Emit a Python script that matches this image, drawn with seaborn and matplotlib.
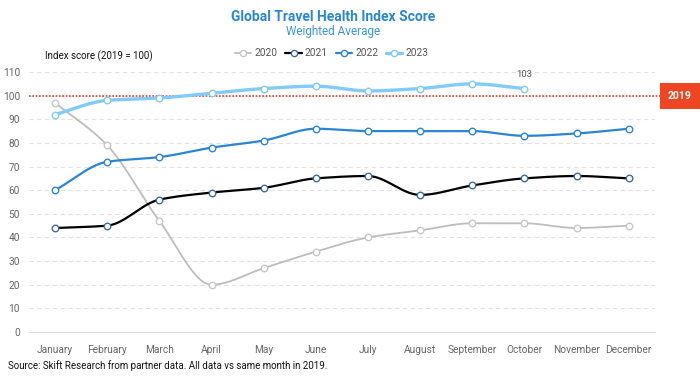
import numpy as np
import pandas as pd
import matplotlib
matplotlib.use("Agg")
import matplotlib.pyplot as plt
import seaborn as sns
from matplotlib.lines import Line2D

months = ["January", "February", "March", "April", "May", "June", "July",
          "August", "September", "October", "November", "December"]
y2020 = [97, 79, 47, 20, 27, 34, 40, 43, 46, 46, 44, 45]
y2021 = [44, 45, 56, 59, 61, 65, 66, 58, 62, 65, 66, 65]
y2022 = [60, 72, 74, 78, 81, 86, 85, 85, 85, 83, 84, 86]
y2023 = [92, 98, 99, 101, 103, 104, 102, 103, 105, 103]
years = ["2020", "2021", "2022", "2023"]

colors = {"2020": "#bdbdbd", "2021": "#000000", "2022": "#2a86d4", "2023": "#80cbf7"}
edges = {"2020": "#c8c8c8", "2021": "#3f6d99", "2022": "#2a86d4", "2023": "#80cbf7"}
widths = {"2020": 1.3, "2021": 1.6, "2022": 1.6, "2023": 2.4}

rows = []
for yr, vals in zip(years, [y2020, y2021, y2022, y2023]):
    for i, v in enumerate(vals):
        rows.append({"year": yr, "pos": i, "month": months[i], "score": v})
df = pd.DataFrame(rows)


# monotone cubic curve through the points (only for drawing the smooth line)
def monotone(x, y, n=30):
    x = np.asarray(x, float)
    y = np.asarray(y, float)
    h = np.diff(x)
    d = np.diff(y) / h
    m = np.zeros_like(y)
    m[0], m[-1] = d[0], d[-1]
    for k in range(1, len(y) - 1):
        if d[k - 1] * d[k] <= 0:
            m[k] = 0
        else:
            m[k] = 3 * (h[k - 1] + h[k]) / ((2 * h[k] + h[k - 1]) / d[k - 1] + (h[k] + 2 * h[k - 1]) / d[k])
    xs, ys = [], []
    for k in range(len(x) - 1):
        t = np.linspace(0, 1, n)
        h00 = 2 * t**3 - 3 * t**2 + 1
        h10 = t**3 - 2 * t**2 + t
        h01 = -2 * t**3 + 3 * t**2
        h11 = t**3 - t**2
        xs.append(x[k] + t * h[k])
        ys.append(h00 * y[k] + h10 * h[k] * m[k] + h01 * y[k + 1] + h11 * h[k] * m[k + 1])
    return np.concatenate(xs), np.concatenate(ys)


curves = []
for yr in years:
    sub = df[df.year == yr]
    cx, cy = monotone(sub.pos, sub.score)
    curves.append(pd.DataFrame({"year": yr, "pos": cx, "score": cy}))
curve_df = pd.concat(curves)

sns.set_style("white")
plt.rcParams["font.family"] = ["Roboto", "DejaVu Sans"]

fig = plt.figure(figsize=(7, 3.76), dpi=100)
ax = fig.add_axes([0.0414, 0.117, 0.894, 0.6915])

for yr in years:
    sns.lineplot(data=curve_df[curve_df.year == yr], x="pos", y="score", color=colors[yr],
                 lw=widths[yr], ax=ax, legend=False, zorder=3, clip_on=False)
    sns.scatterplot(data=df[df.year == yr], x="pos", y="score", color="white",
                    edgecolor=edges[yr], linewidth=1.0, s=22, ax=ax, legend=False,
                    zorder=4, clip_on=False)

ax.set_xlim(-0.5, 11.5)
ax.set_ylim(0, 110)
ax.set_yticks(range(0, 111, 10))
ax.set_xticks(range(12))
ax.set_xticklabels(months)
ax.set_xlabel("")
ax.set_ylabel("")
ax.tick_params(axis="both", labelsize=7.3, labelcolor="#666666", length=0)
ax.tick_params(axis="x", pad=9)
ax.tick_params(axis="y", pad=6.5)
for sp in ["top", "right", "left"]:
    ax.spines[sp].set_visible(False)
ax.spines["bottom"].set_color("#dddddd")
ax.spines["bottom"].set_linewidth(0.8)
for v in range(10, 111, 10):
    ax.axhline(v, color="#e2e2e2", lw=0.8, ls=(0, (4, 3)), zorder=1)

# 2019 reference line
ax.axhline(100, xmin=0, xmax=1.016, color="#e8412a", lw=1.2, ls=(0, (1, 1)), zorder=2, clip_on=False)
fig.text(0.9543, 0.7445, "2019", color="white", fontsize=7.5, fontweight="bold", ha="left", va="center",
         bbox=dict(boxstyle="square,pad=0.75", fc="#ee4523", ec="none"))

ax.annotate("103", (9, 103), xytext=(0, 7), textcoords="offset points", ha="center",
            va="bottom", fontsize=6.8, color="#555555")

fig.text(0.476, 0.955, "Global Travel Health Index Score", ha="center", va="center",
         fontsize=10, fontweight="bold", color="#2a86d4")
fig.text(0.476, 0.915, "Weighted Average", ha="center", va="center", fontsize=8.5, color="#3b95dc")
fig.text(0.064, 0.85, "Index score (2019 = 100)", ha="left", va="center", fontsize=7, color="#111111")
fig.text(0.012, 0.027, "Source: Skift Research from partner data. All data vs same month in 2019.",
         ha="left", va="center", fontsize=7, color="#111111")

handles = [Line2D([0], [0], color=colors[yr], lw=widths[yr], marker="o", markersize=4.5,
                  markerfacecolor="white", markeredgecolor=edges[yr]) for yr in years]
fig.legend(handles, years, loc="center", bbox_to_anchor=(0.474, 0.858), ncol=4, frameon=False,
           fontsize=7.3, labelcolor="#555555", handlelength=1.6, handletextpad=0.3,
           columnspacing=0.8)

plt.savefig("out.png", dpi=100)
